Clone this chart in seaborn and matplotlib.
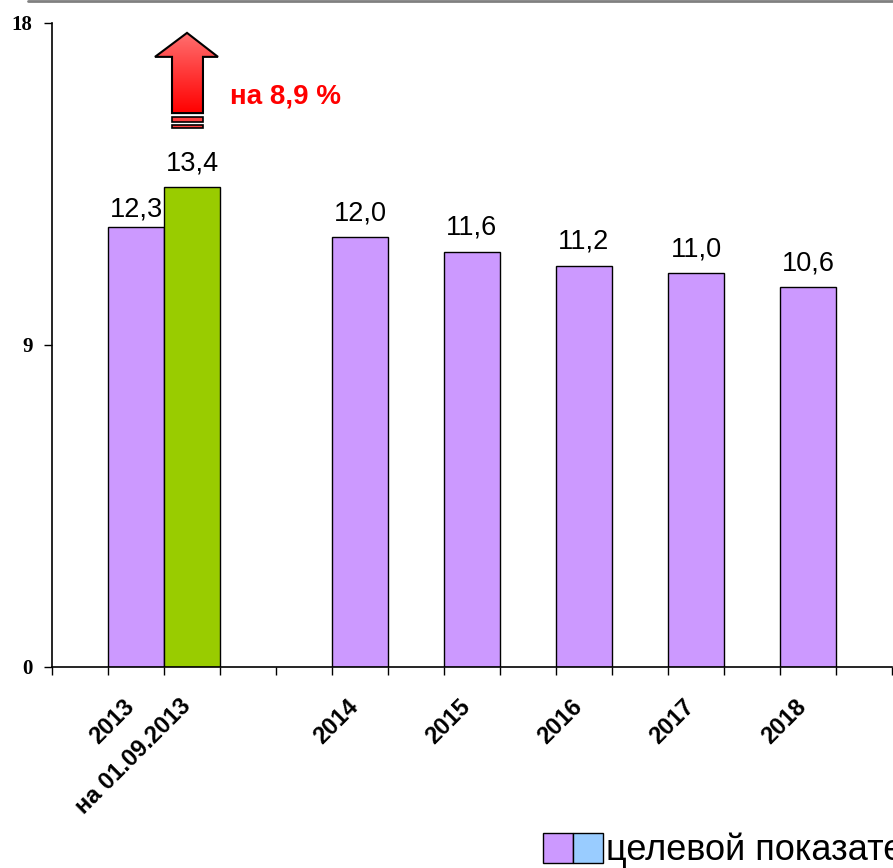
import matplotlib
matplotlib.use("Agg")
import matplotlib.pyplot as plt
import matplotlib.transforms as mtransforms
import seaborn as sns
import numpy as np
import pandas as pd
from matplotlib.patches import Patch, Polygon, Rectangle
from matplotlib.legend_handler import HandlerTuple
from matplotlib.colors import LinearSegmentedColormap
from matplotlib.lines import Line2D

# bar data
labels = ["2013", "на 01.09.2013", "2014", "2015", "2016", "2017", "2018"]
values = [12.3, 13.4, 12.0, 11.6, 11.2, 11.0, 10.6]
colors = ["#CC99FF", "#99CC00", "#CC99FF", "#CC99FF", "#CC99FF", "#CC99FF", "#CC99FF"]
yticks = [0, 9, 18]
growth_text = "на 8,9 %"
legend_label = "целевой показатель"
legend_colors = ["#CC99FF", "#99CCFF"]

# category layout with empty slots between years
order = ["_e0", "2013", "на 01.09.2013", "_e1", "_e2", "2014", "_e3", "2015",
         "_e4", "2016", "_e5", "2017", "_e6", "2018", "_e7"]

sns.set_style("white")
plt.rcParams['font.family'] = ['Liberation Sans', 'DejaVu Sans']
plt.rcParams['text.color'] = 'black'
plt.rcParams['xtick.color'] = 'black'
plt.rcParams['ytick.color'] = 'black'
plt.rcParams['axes.labelcolor'] = 'black'

df = pd.DataFrame({"cat": labels, "val": values})

fig = plt.figure(figsize=(8.93, 8.68), dpi=100)
ax = fig.add_axes([52 / 893, 1 - 667 / 868, 840 / 893, (667 - 22.5) / 868])

sns.barplot(data=df, x="cat", y="val", order=order, hue="cat", hue_order=labels,
            palette=dict(zip(labels, colors)), saturation=1, width=1,
            edgecolor="black", linewidth=1, legend=False, ax=ax)

for i, c in enumerate(ax.containers):
    ax.bar_label(c, labels=[f"{v:.1f}".replace(".", ",") for v in c.datavalues],
                 padding=3 if i == 0 else 8, fontsize=19.5, color="black")

ax.set_xlim(-0.5, len(order) - 0.5)
ax.set_ylim(0, 18)
ax.set_yticks(yticks)
ax.set_yticklabels([str(t) for t in yticks], family="Liberation Serif",
                   fontweight="bold", fontsize=15)
ax.tick_params(axis="y", length=6, width=1, pad=8, left=True, color="black")

ax.set_xticks(range(len(order)))
ax.set_xticklabels([o if not o.startswith("_") else "" for o in order],
                   rotation=45, ha="right", rotation_mode="anchor",
                   fontweight="bold", fontsize=17)
ax.tick_params(axis="x", length=0, pad=12)
shift = mtransforms.ScaledTranslation(-13 / 100, -11 / 100, fig.dpi_scale_trans)
for lab in ax.get_xticklabels():
    lab.set_transform(lab.get_transform() + shift)
ax.set_xticks(np.arange(len(order) + 1) - 0.5, minor=True)
ax.tick_params(axis="x", which="minor", length=6, width=1, bottom=True, color="black")
ax.set_xlabel("")
ax.set_ylabel("")

for s in ["top", "right"]:
    ax.spines[s].set_visible(False)
for s in ["left", "bottom"]:
    ax.spines[s].set_color("black")
    ax.spines[s].set_linewidth(1.2)

# red up arrow with gradient
arrow_pts = [(1.643, 15.47), (1.643, 17.04), (1.339, 17.04), (1.911, 17.71),
             (2.464, 17.04), (2.196, 17.04), (2.196, 15.47)]
arrow = Polygon(arrow_pts, closed=True, facecolor="none", edgecolor="black",
                linewidth=1.5, zorder=5)
ax.add_patch(arrow)
cmap = LinearSegmentedColormap.from_list("redgrad", ["#ff0000", "#ff7070"])
grad = np.linspace(0, 1, 100).reshape(-1, 1)
img = ax.imshow(grad, extent=[1.339, 2.464, 15.47, 17.71], origin="lower",
                cmap=cmap, aspect="auto", zorder=4)
img.set_clip_path(arrow)
for y0, y1 in [(15.22, 15.36), (15.06, 15.14)]:
    ax.add_patch(Rectangle((1.643, y0), 0.553, y1 - y0, facecolor="#ff4040",
                           edgecolor="black", linewidth=1.2, zorder=5))
ax.set_xlim(-0.5, len(order) - 0.5)
ax.set_ylim(0, 18)

ax.text(2.68, 15.92, growth_text, color="#ff0000", fontweight="bold",
        fontsize=20, ha="left", va="center")

# gray line at the top of the figure
fig.add_artist(Line2D([28 / 893, 1], [0.999, 0.999], color="#808080", linewidth=2))

# legend (cut off at right edge, as in the original)
handles = [tuple(Patch(facecolor=c, edgecolor="black", linewidth=1) for c in legend_colors)]
fig.legend(handles=handles, labels=[legend_label],
           handler_map={tuple: HandlerTuple(ndivide=None, pad=0)},
           loc="upper left", bbox_to_anchor=(543 / 893, 1 - 833 / 868),
           frameon=False, fontsize=26, handlelength=1.67, handleheight=0.86,
           handletextpad=0.08, borderpad=0, borderaxespad=0)

fig.savefig("out.png", dpi=100)
